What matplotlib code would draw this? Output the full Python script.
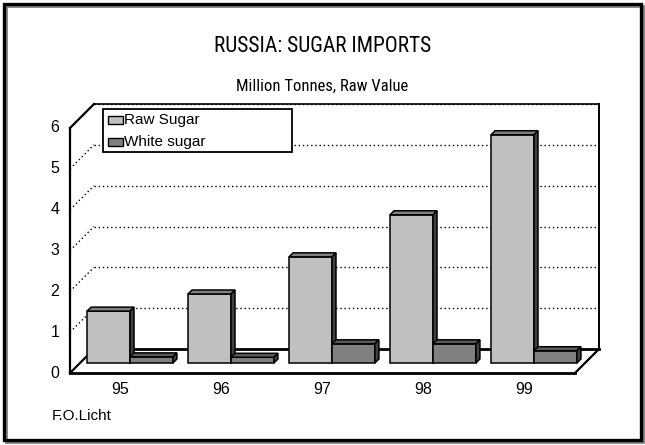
import matplotlib
matplotlib.use("Agg")
import matplotlib.pyplot as plt
from matplotlib.patches import Polygon, Rectangle
from matplotlib.lines import Line2D
from matplotlib import font_manager

# ---------------- data ----------------
categories = ["95", "96", "97", "98", "99"]
raw_sugar = [1.27, 1.69, 2.60, 3.63, 5.59]
white_sugar = [0.15, 0.14, 0.47, 0.47, 0.30]
series_names = ["Raw Sugar", "White sugar"]
y_ticks = [0, 1, 2, 3, 4, 5, 6]
title = "RUSSIA: SUGAR IMPORTS"
subtitle = "Million Tonnes, Raw Value"
source = "F.O.Licht"

# pick a condensed font if one is installed
names = {f.name for f in font_manager.fontManager.ttflist}
cond_fams = [n for n in ["Liberation Sans Narrow", "Arial Narrow", "Roboto Condensed",
                         "Open Sans Condensed", "DejaVu Sans Condensed"] if n in names]
condensed_dejavu = any(f.name == "DejaVu Sans" and f.stretch == "condensed"
                       for f in font_manager.fontManager.ttflist)
if cond_fams:
    title_kw = dict(family=cond_fams[0])
elif condensed_dejavu:
    title_kw = dict(family="DejaVu Sans", stretch="condensed")
else:
    title_kw = None

# ---------------- layout ----------------
W, H = 645, 445
fig = plt.figure(figsize=(W / 100, H / 100), dpi=100)
fig.patch.set_facecolor("white")

ax_left, ax_right = 70, 575
y0_px, y6_px = 373, 128
ax = fig.add_axes([ax_left / W, (H - y0_px) / H, (ax_right - ax_left) / W, (y0_px - y6_px) / H])
ax.set_xlim(0, len(categories))
ax.set_ylim(0, 6)
ax.axis("off")

px_x = (ax_right - ax_left) / len(categories)
px_y = (y0_px - y6_px) / 6.0
DX = 24 / px_x
DY = 24 / px_y

def line(xs, ys, **kw):
    ax.add_line(Line2D(xs, ys, clip_on=False, **kw))

dot = (0, (1, 2))
ymax = 6
nC = len(categories)

for t in y_ticks[1:]:
    line([DX, nC + DX], [t + DY, t + DY], color="black", lw=1.0, linestyle=dot)
    line([0, DX], [t, t + DY], color="black", lw=1.0, linestyle=dot)

line([DX, nC + DX], [ymax + DY, ymax + DY], color="black", lw=1.2)
line([nC + DX, nC + DX], [DY, ymax + DY], color="black", lw=1.4)
line([DX, nC + DX], [DY, DY], color="black", lw=2.0)
line([0, DX], [0, DY], color="black", lw=1.6)
line([0, DX], [ymax, ymax + DY], color="black", lw=1.6)
line([0, 0], [0, ymax], color="black", lw=1.6)
line([0, nC], [0, 0], color="black", lw=2.0)
line([nC, nC + DX], [0, DY], color="black", lw=1.6)

f_front = 10 / 24.0
f_back = 14 / 24.0
bw = 0.425
offs = [0.07, 0.07 + bw]
face_cols = ["#C0C0C0", "#808080"]
top_cols = ["#808080", "#5A5A5A"]
side_cols = ["#404040", "#404040"]
sx, sy = DX * f_front, DY * f_front
ddx, ddy = DX * (f_back - f_front), DY * (f_back - f_front)

for i in range(nC):
    for s, vals in enumerate([raw_sugar, white_sugar]):
        v = vals[i]
        x0 = i + offs[s] + sx
        x1 = x0 + bw
        b = sy
        t = sy + v
        ax.bar(x0, v, width=bw, bottom=b, align="edge", color=face_cols[s],
               edgecolor="black", linewidth=1.1, clip_on=False, zorder=3)
        ax.add_patch(Polygon([[x0, t], [x1, t], [x1 + ddx, t + ddy], [x0 + ddx, t + ddy]],
                             closed=True, facecolor=top_cols[s], edgecolor="black",
                             linewidth=1.1, clip_on=False, zorder=3))
        ax.add_patch(Polygon([[x1, b], [x1, t], [x1 + ddx, t + ddy], [x1 + ddx, b + ddy]],
                             closed=True, facecolor=side_cols[s], edgecolor="black",
                             linewidth=1.1, clip_on=False, zorder=3))

for t in y_ticks:
    ax.text(-0.15, t, str(t), ha="center", va="center", fontsize=11.5,
            family="Liberation Sans")

for i, c in enumerate(categories):
    ax.text(i + 0.5, -17 / px_y, c, ha="center", va="center", fontsize=11.5,
            family="Liberation Sans")

def fx(x):
    return x / W
def fy(y):
    return 1 - y / H

fig.patches.append(Rectangle((fx(103), fy(152)), (292 - 103) / W, (152 - 109) / H,
                             transform=fig.transFigure, facecolor="white",
                             edgecolor="black", linewidth=1.3, zorder=5))
for k, (name, col) in enumerate(zip(series_names, face_cols)):
    yc = 120 + k * 22
    fig.patches.append(Rectangle((fx(108), fy(yc + 4)), 15 / W, 8 / H,
                                 transform=fig.transFigure, facecolor=col,
                                 edgecolor="black", linewidth=1.0, zorder=6))
    fig.text(fx(124), fy(yc), name, ha="left", va="center", fontsize=11,
             family="Liberation Sans", zorder=7)

if title_kw is not None:
    t_size, s_size = 15.5, 12
else:
    title_kw = dict(family="Liberation Sans")
    t_size, s_size = 13.5, 11.5
fig.text(0.5, fy(46), title, ha="center", va="center", fontsize=t_size, **title_kw)
fig.text(0.5, fy(86), subtitle, ha="center", va="center", fontsize=s_size, **title_kw)
fig.text(fx(52), fy(416), source, ha="left", va="center", fontsize=11,
         family="Liberation Sans")

# outer frame with shadow
fig.patches.append(Rectangle((fx(6), fy(442)), (643 - 6) / W, (442 - 6) / H,
                             transform=fig.transFigure, facecolor="none",
                             edgecolor="#808080", linewidth=2.0, zorder=9))
fig.patches.append(Rectangle((fx(4), fy(440)), (641 - 4) / W, (440 - 4) / H,
                             transform=fig.transFigure, facecolor="none",
                             edgecolor="black", linewidth=2.4, zorder=10))

fig.savefig("out.png", dpi=100)
